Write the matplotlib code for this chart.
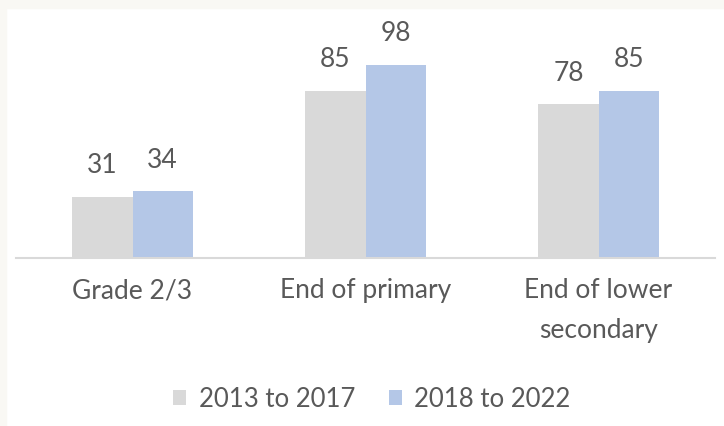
import matplotlib.pyplot as plt
import numpy as np
from matplotlib.patches import Rectangle

categories = ['Grade 2/3', 'End of primary', 'End of lower\nsecondary']
series_names = ['2013 to 2017', '2018 to 2022']
values_2013 = [31, 85, 78]
values_2018 = [34, 98, 85]

colors = ['#d9d9d9', '#b4c7e7']
text_color = '#595959'

plt.rcParams['font.family'] = ['Lato', 'DejaVu Sans']

W, H = 724, 427
fig = plt.figure(figsize=(W / 100, H / 100), dpi=100)
fig.patch.set_facecolor('white')

# off-white frame strip on top and left
fig.patches.append(Rectangle((0, 1 - 9 / H), 1, 9 / H, transform=fig.transFigure,
                             color='#f9f8f4', zorder=-10))
fig.patches.append(Rectangle((0, 0), 6 / W, 1, transform=fig.transFigure,
                             color='#f9f8f4', zorder=-10))

ymax = 120
px_per_unit = 1.97
ax_left, ax_right = 16, 715
ax_bottom = H - 259
ax_h = ymax * px_per_unit
ax = fig.add_axes([ax_left / W, ax_bottom / H, (ax_right - ax_left) / W, ax_h / H])
ax.set_facecolor('none')

x = np.arange(len(categories))
width = 0.258
b1 = ax.bar(x - width / 2, values_2013, width, color=colors[0], label=series_names[0])
b2 = ax.bar(x + width / 2, values_2018, width, color=colors[1], label=series_names[1])

for bars in (b1, b2):
    for rect in bars:
        ax.annotate(f'{int(rect.get_height())}',
                    (rect.get_x() + rect.get_width() / 2, rect.get_height()),
                    xytext=(0, 14), textcoords='offset points',
                    ha='center', va='bottom', fontsize=19, color=text_color)

ax.set_xlim(-0.5, len(categories) - 0.5)
ax.set_ylim(0, ymax)
ax.set_yticks([])
ax.set_xticks(x)
ax.set_xticklabels(categories, fontsize=19, color=text_color, linespacing=1.75)
ax.tick_params(axis='x', length=0, pad=14)
for s in ['top', 'right', 'left']:
    ax.spines[s].set_visible(False)
ax.spines['bottom'].set_color('#d9d9d9')
ax.spines['bottom'].set_linewidth(1.5)

fig.legend(handles=[b1, b2], labels=series_names, loc='center',
           bbox_to_anchor=(372 / W, 1 - 400 / H), ncol=2, frameon=False,
           fontsize=18.5, labelcolor=text_color, handlelength=0.5, handleheight=0.5,
           handletextpad=0.5, columnspacing=1.3)

fig.savefig('out.png', dpi=100, facecolor=fig.get_facecolor())
